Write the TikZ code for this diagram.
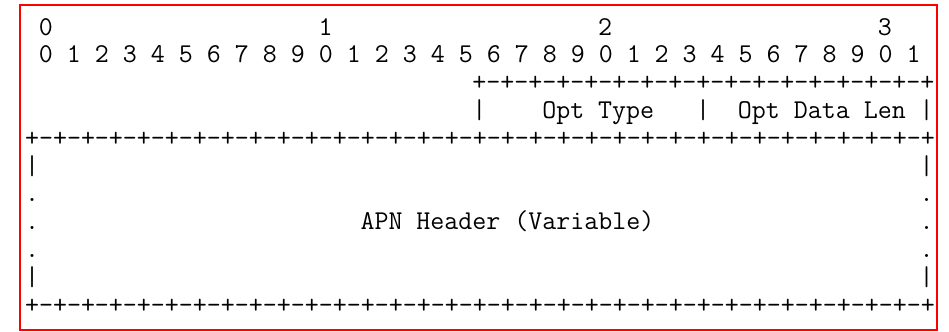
\documentclass[tikz,border=0pt]{standalone}
\usepackage{fontspec}
\usepackage{tikz}

\newcommand{\asciifont}{\ttfamily\fontsize{27.18pt}{27.8pt}\selectfont}
\newcommand{\quadseg}{-+-+-+-+}

\begin{document}
\begin{tikzpicture}[x=13.98pt, y=-27.8pt,
    cell/.style={anchor=base west, inner sep=0pt, outer sep=0pt, font=\asciifont}]
    \useasboundingbox (-2.289,-0.989) rectangle (65.594,10.953);

    % 外框
    \draw[red, line width=2pt] (-0.858,-0.809) rectangle (64.735,10.881);

    % 比特编号
    \node[cell] (tens0) at (0.5,0.27) {0};
    \node[cell] (tens1) at (20.5,0.27) {1};
    \node[cell] (tens2) at (40.5,0.27) {2};
    \node[cell] (tens3) at (60.5,0.27) {3};
    \node[cell] (bits) at (0.5,1.27) {0 1 2 3 4 5 6 7 8 9 0 1 2 3 4 5 6 7 8 9 0 1 2 3 4 5 6 7 8 9 0 1};

    % 选项类型与长度
    \node[cell] (optTop) at (31.5,2.27) {+\quadseg\quadseg\quadseg\quadseg};
    \node[cell] (barA) at (31.5,3.27) {|};
    \node[cell] (optType) at (36.5,3.27) {Opt Type};
    \node[cell] (barB) at (47.5,3.27) {|};
    \node[cell] (optLen) at (50.5,3.27) {Opt Data Len};
    \node[cell] (barC) at (63.5,3.27) {|};
    \node[cell] (ruleMid) at (-0.5,4.27) {+\quadseg\quadseg\quadseg\quadseg\quadseg\quadseg\quadseg\quadseg};

    % APN 头部（可变长度）
    \node[cell] (leftA) at (-0.5,5.27) {|};
    \node[cell] (rightA) at (63.5,5.27) {|};
    \node[cell] (leftB) at (-0.5,6.27) {.};
    \node[cell] (rightB) at (63.5,6.27) {.};
    \node[cell] (leftC) at (-0.5,7.27) {.};
    \node[cell] (apn) at (23.5,7.27) {APN Header (Variable)};
    \node[cell] (rightC) at (63.5,7.27) {.};
    \node[cell] (leftD) at (-0.5,8.27) {.};
    \node[cell] (rightD) at (63.5,8.27) {.};
    \node[cell] (leftE) at (-0.5,9.27) {|};
    \node[cell] (rightE) at (63.5,9.27) {|};
    \node[cell] (ruleEnd) at (-0.5,10.27) {+\quadseg\quadseg\quadseg\quadseg\quadseg\quadseg\quadseg\quadseg};
\end{tikzpicture}
\end{document}
